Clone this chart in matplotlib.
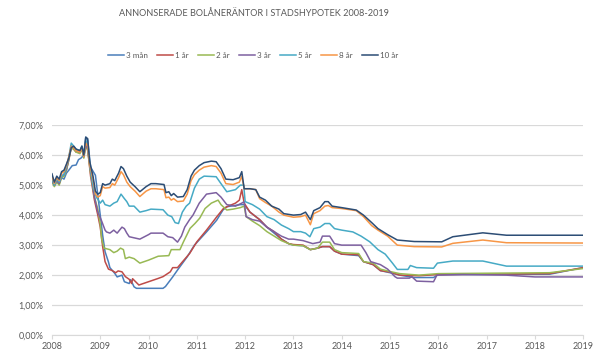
import matplotlib.pyplot as plt
from matplotlib.ticker import FuncFormatter

plt.rcParams['font.family'] = ['Lato', 'DejaVu Sans']

# 3 mån
t_3m = [2008.0, 2008.05, 2008.1, 2008.15, 2008.2, 2008.25, 2008.3, 2008.35, 2008.42, 2008.5,
        2008.55, 2008.6, 2008.66, 2008.7, 2008.74, 2008.8, 2008.9, 2009.0, 2009.05, 2009.1,
        2009.17, 2009.2, 2009.3, 2009.35, 2009.45, 2009.5, 2009.6, 2009.63, 2009.7, 2009.75,
        2010.3, 2010.35, 2010.5, 2010.6, 2010.7, 2010.8, 2010.95, 2011.2, 2011.41, 2011.54,
        2011.62, 2011.9, 2011.98, 2012.1, 2012.3, 2012.45, 2012.6, 2012.75, 2012.9, 2013.0,
        2013.2, 2013.35, 2013.5, 2013.6, 2013.75, 2013.85, 2014.0, 2014.35, 2014.45, 2014.65,
        2014.8, 2015.0, 2015.2, 2015.5, 2015.9, 2016.0, 2018.3, 2019.0]
r_3m = [5.2, 5.05, 5.2, 5.1, 5.25, 5.2, 5.4, 5.5, 5.65, 5.67,
        5.85, 5.9, 6.0, 6.6, 6.5, 5.6, 5.33, 4.0, 3.33, 2.78,
        2.44, 2.25, 2.06, 1.94, 2.0, 1.78, 1.72, 1.85, 1.61, 1.56,
        1.56, 1.62, 1.94, 2.17, 2.39, 2.61, 3.0, 3.44, 3.83, 4.17,
        4.28, 4.35, 4.35, 4.1, 3.85, 3.6, 3.4, 3.2, 3.05, 3.0,
        2.98, 2.85, 2.9, 2.95, 2.95, 2.8, 2.7, 2.65, 2.45, 2.35,
        2.15, 2.08, 2.0, 1.92, 1.92, 2.02, 2.03, 2.25]

# 1 år
t_1y = [2008.0, 2008.05, 2008.1, 2008.15, 2008.2, 2008.25, 2008.3, 2008.35, 2008.4, 2008.45,
        2008.5, 2008.58, 2008.62, 2008.66, 2008.7, 2008.74, 2008.8, 2008.88, 2008.95, 2009.0,
        2009.05, 2009.1, 2009.17, 2009.25, 2009.32, 2009.37, 2009.45, 2009.52, 2009.6, 2009.65,
        2009.67, 2009.8, 2010.0, 2010.2, 2010.3, 2010.45, 2010.5, 2010.6, 2010.7, 2010.85,
        2011.0, 2011.2, 2011.41, 2011.55, 2011.65, 2011.8, 2011.88, 2011.93, 2011.98, 2012.1,
        2012.3, 2012.45, 2012.6, 2012.75, 2012.9, 2013.0, 2013.2, 2013.35, 2013.5, 2013.6,
        2013.75, 2013.85, 2014.0, 2014.35, 2014.45, 2014.65, 2014.8, 2015.0, 2015.2, 2015.6,
        2016.0, 2018.3, 2019.0]
r_1y = [5.15, 5.0, 5.15, 5.05, 5.3, 5.35, 5.5, 5.85, 6.25, 6.2,
        6.1, 6.1, 6.25, 5.95, 6.4, 6.2, 5.3, 4.5, 4.0, 3.6,
        2.95, 2.45, 2.2, 2.15, 2.08, 2.14, 2.11, 1.95, 1.86, 1.72,
        1.88, 1.67, 1.78, 1.89, 1.95, 2.11, 2.25, 2.25, 2.44, 2.72,
        3.11, 3.5, 3.94, 4.22, 4.3, 4.4, 4.5, 4.85, 4.4, 4.1,
        3.85, 3.6, 3.45, 3.2, 3.05, 3.02, 3.0, 2.85, 2.9, 2.95,
        2.95, 2.8, 2.7, 2.68, 2.45, 2.35, 2.15, 2.1, 2.0, 1.98,
        2.02, 2.05, 2.25]

# 2 år
t_2y = [2008.0, 2008.05, 2008.1, 2008.15, 2008.2, 2008.25, 2008.3, 2008.35, 2008.4, 2008.45,
        2008.5, 2008.58, 2008.62, 2008.66, 2008.7, 2008.74, 2008.8, 2008.88, 2008.95, 2009.0,
        2009.03, 2009.08, 2009.2, 2009.28, 2009.35, 2009.42, 2009.48, 2009.52, 2009.6, 2009.7,
        2009.82, 2010.0, 2010.2, 2010.42, 2010.47, 2010.65, 2010.72, 2010.86, 2010.96, 2011.06,
        2011.17, 2011.3, 2011.44, 2011.5, 2011.62, 2011.75, 2011.9, 2011.98, 2012.02, 2012.15,
        2012.3, 2012.45, 2012.6, 2012.75, 2012.9, 2013.0, 2013.2, 2013.35, 2013.5, 2013.6,
        2013.75, 2013.85, 2014.0, 2014.35, 2014.45, 2014.65, 2014.8, 2015.0, 2015.2, 2015.6,
        2016.0, 2018.3, 2019.0]
r_2y = [5.1, 4.95, 5.1, 5.0, 5.25, 5.3, 5.5, 5.85, 6.25, 6.2,
        6.1, 6.05, 6.2, 5.9, 6.3, 6.15, 5.4, 4.6, 4.2, 3.7,
        3.2, 2.9, 2.85, 2.75, 2.8, 2.9, 2.85, 2.55, 2.6, 2.55,
        2.4, 2.5, 2.63, 2.65, 2.85, 2.85, 3.1, 3.56, 3.72, 3.9,
        4.22, 4.4, 4.5, 4.35, 4.17, 4.2, 4.25, 4.3, 3.95, 3.8,
        3.65, 3.45, 3.3, 3.15, 3.05, 3.0, 2.98, 2.85, 2.9, 3.1,
        3.1, 2.85, 2.75, 2.72, 2.45, 2.4, 2.2, 2.12, 2.05, 2.0,
        2.05, 2.08, 2.22]

# 3 år
t_3y = [2008.0, 2008.05, 2008.1, 2008.15, 2008.2, 2008.25, 2008.3, 2008.35, 2008.4, 2008.45,
        2008.5, 2008.58, 2008.62, 2008.66, 2008.7, 2008.74, 2008.8, 2008.88, 2008.95, 2009.03,
        2009.1, 2009.13, 2009.2, 2009.28, 2009.35, 2009.45, 2009.5, 2009.55, 2009.6, 2009.82,
        2010.0, 2010.05, 2010.3, 2010.4, 2010.5, 2010.6, 2010.68, 2010.75, 2010.85, 2010.92,
        2011.05, 2011.2, 2011.4, 2011.5, 2011.62, 2011.8, 2011.93, 2011.98, 2012.02, 2012.15,
        2012.3, 2012.45, 2012.6, 2012.75, 2012.9, 2013.0, 2013.2, 2013.4, 2013.55, 2013.6,
        2013.75, 2013.85, 2014.0, 2014.4, 2014.5, 2014.6, 2014.8, 2014.95, 2015.1, 2015.15,
        2015.4, 2015.45, 2015.55, 2015.9, 2015.97, 2016.5, 2017.4, 2018.0, 2019.0]
r_3y = [5.15, 5.0, 5.15, 5.05, 5.3, 5.35, 5.55, 5.9, 6.3, 6.25,
        6.15, 6.1, 6.25, 5.95, 6.35, 6.2, 5.5, 4.6, 4.1, 3.8,
        3.5, 3.44, 3.4, 3.5, 3.4, 3.6, 3.55, 3.4, 3.28, 3.2,
        3.35, 3.4, 3.4, 3.28, 3.25, 3.1, 3.3, 3.6, 3.85, 4.0,
        4.4, 4.7, 4.75, 4.6, 4.35, 4.3, 4.4, 4.45, 3.95, 3.85,
        3.8, 3.6, 3.45, 3.3, 3.2, 3.2, 3.15, 3.05, 3.1, 3.3,
        3.3, 3.05, 3.0, 3.0, 2.75, 2.45, 2.35, 2.2, 1.95, 1.9,
        1.9, 1.95, 1.8, 1.78, 2.0, 2.02, 2.0, 1.94, 1.94]

# 5 år
t_5y = [2008.0, 2008.05, 2008.1, 2008.15, 2008.2, 2008.25, 2008.3, 2008.35, 2008.4, 2008.45,
        2008.5, 2008.58, 2008.62, 2008.66, 2008.7, 2008.74, 2008.8, 2008.86, 2008.92, 2009.0,
        2009.05, 2009.1, 2009.2, 2009.28, 2009.35, 2009.43, 2009.5, 2009.55, 2009.6, 2009.7,
        2009.82, 2009.95, 2010.05, 2010.3, 2010.4, 2010.48, 2010.55, 2010.62, 2010.7, 2010.78,
        2010.85, 2010.95, 2011.05, 2011.15, 2011.4, 2011.5, 2011.62, 2011.8, 2011.9, 2011.97,
        2012.0, 2012.15, 2012.3, 2012.45, 2012.6, 2012.75, 2012.9, 2013.0, 2013.15, 2013.25,
        2013.34, 2013.42, 2013.55, 2013.65, 2013.75, 2013.85, 2014.0, 2014.23, 2014.4, 2014.58,
        2014.75, 2014.9, 2015.05, 2015.15, 2015.37, 2015.42, 2015.55, 2015.9, 2015.98, 2016.3,
        2016.92, 2017.41, 2019.0]
r_5y = [5.2, 5.0, 5.2, 5.1, 5.3, 5.35, 5.6, 5.95, 6.4, 6.3,
        6.2, 6.15, 6.3, 6.0, 6.5, 6.3, 5.5, 4.9, 4.6, 4.4,
        4.5, 4.35, 4.3, 4.4, 4.45, 4.7, 4.55, 4.45, 4.3, 4.3,
        4.1, 4.15, 4.2, 4.18, 4.0, 3.95, 3.75, 3.72, 4.1, 4.3,
        4.4, 4.9, 5.2, 5.3, 5.28, 5.05, 4.78, 4.85, 5.0, 5.0,
        4.45, 4.35, 4.2, 3.95, 3.85, 3.67, 3.55, 3.45, 3.45, 3.4,
        3.28, 3.55, 3.6, 3.72, 3.72, 3.55, 3.5, 3.44, 3.3, 3.11,
        2.85, 2.7, 2.4, 2.19, 2.19, 2.32, 2.25, 2.23, 2.4, 2.47,
        2.47, 2.3, 2.3]

# 8 år
t_8y = [2008.0, 2008.05, 2008.1, 2008.15, 2008.2, 2008.25, 2008.3, 2008.35, 2008.4, 2008.45,
        2008.5, 2008.58, 2008.62, 2008.66, 2008.7, 2008.74, 2008.78, 2008.85, 2008.9, 2008.95,
        2009.0, 2009.05, 2009.1, 2009.2, 2009.25, 2009.3, 2009.38, 2009.43, 2009.48, 2009.55,
        2009.62, 2009.72, 2009.82, 2009.95, 2010.05, 2010.15, 2010.32, 2010.36, 2010.42, 2010.47,
        2010.52, 2010.6, 2010.72, 2010.8, 2010.88, 2010.95, 2011.05, 2011.15, 2011.3, 2011.4,
        2011.5, 2011.6, 2011.75, 2011.88, 2011.93, 2011.98, 2012.1, 2012.22, 2012.3, 2012.42,
        2012.55, 2012.7, 2012.8, 2013.0, 2013.15, 2013.25, 2013.35, 2013.42, 2013.55, 2013.65,
        2013.72, 2013.8, 2014.0, 2014.3, 2014.45, 2014.62, 2014.75, 2014.95, 2015.15, 2015.5,
        2016.07, 2016.3, 2016.92, 2017.41, 2019.0]
r_8y = [5.3, 5.05, 5.25, 5.15, 5.4, 5.45, 5.65, 5.95, 6.3, 6.25,
        6.15, 6.1, 6.25, 5.95, 6.4, 6.3, 5.7, 5.2, 4.7, 4.6,
        4.65, 4.95, 4.9, 4.92, 5.05, 5.0, 5.25, 5.45, 5.35, 5.1,
        4.95, 4.8, 4.62, 4.8, 4.88, 4.88, 4.85, 4.58, 4.6, 4.5,
        4.55, 4.45, 4.47, 4.7, 5.15, 5.35, 5.5, 5.6, 5.65, 5.62,
        5.4, 5.05, 5.02, 5.1, 5.3, 4.88, 4.88, 4.85, 4.55, 4.42,
        4.3, 4.1, 4.0, 3.93, 3.95, 4.0, 3.68, 4.05, 4.15, 4.3,
        4.32, 4.25, 4.22, 4.15, 3.95, 3.65, 3.5, 3.3, 3.0, 2.95,
        2.94, 3.06, 3.17, 3.08, 3.07]

# 10 år
t_10y = [2008.0, 2008.05, 2008.1, 2008.15, 2008.2, 2008.25, 2008.3, 2008.35, 2008.4, 2008.45,
         2008.5, 2008.58, 2008.62, 2008.66, 2008.7, 2008.74, 2008.78, 2008.85, 2008.9, 2008.95,
         2009.0, 2009.05, 2009.1, 2009.2, 2009.25, 2009.3, 2009.38, 2009.43, 2009.48, 2009.55,
         2009.62, 2009.72, 2009.82, 2009.95, 2010.05, 2010.15, 2010.32, 2010.36, 2010.42, 2010.47,
         2010.52, 2010.6, 2010.72, 2010.8, 2010.88, 2010.95, 2011.05, 2011.15, 2011.3, 2011.4,
         2011.5, 2011.6, 2011.75, 2011.88, 2011.93, 2011.98, 2012.1, 2012.22, 2012.3, 2012.42,
         2012.55, 2012.7, 2012.8, 2013.0, 2013.15, 2013.25, 2013.35, 2013.42, 2013.55, 2013.65,
         2013.72, 2013.8, 2014.0, 2014.3, 2014.45, 2014.62, 2014.75, 2014.95, 2015.15, 2015.5,
         2016.07, 2016.3, 2016.92, 2017.41, 2019.0]
r_10y = [5.38, 5.1, 5.3, 5.2, 5.45, 5.5, 5.7, 5.9, 6.25, 6.3,
         6.2, 6.15, 6.3, 6.0, 6.6, 6.55, 5.8, 5.3, 4.8, 4.7,
         4.75, 5.05, 5.0, 5.05, 5.2, 5.15, 5.4, 5.62, 5.55, 5.3,
         5.1, 4.95, 4.78, 4.95, 5.05, 5.05, 5.02, 4.75, 4.78, 4.65,
         4.72, 4.6, 4.62, 4.85, 5.3, 5.5, 5.65, 5.75, 5.8, 5.78,
         5.55, 5.2, 5.18, 5.25, 5.45, 4.88, 4.88, 4.85, 4.6, 4.5,
         4.3, 4.2, 4.05, 4.0, 4.02, 4.1, 3.85, 4.15, 4.25, 4.45,
         4.45, 4.3, 4.25, 4.17, 4.0, 3.75, 3.55, 3.35, 3.17, 3.12,
         3.11, 3.28, 3.41, 3.33, 3.33]

labels = ['3 mån', '1 år', '2 år', '3 år', '5 år', '8 år', '10 år']
colors = ['#4A7EBB', '#BE4B48', '#98B954', '#7D60A0', '#46AAC5', '#F79646', '#2C4D75']
series = [(t_3m, r_3m), (t_1y, r_1y), (t_2y, r_2y), (t_3y, r_3y),
          (t_5y, r_5y), (t_8y, r_8y), (t_10y, r_10y)]
years = list(range(2008, 2020))

fig = plt.figure(figsize=(5.97, 3.55), dpi=100)
ax = fig.add_axes([0.087, 0.056, 0.89, 0.5915])

for (t, r), lab, c in zip(series, labels, colors):
    ax.plot(t, r, color=c, linewidth=1.1, label=lab)

ax.set_xlim(2008, 2019)
ax.set_ylim(0, 7)
ax.set_xticks(years)
ax.set_yticks(range(0, 8))
ax.yaxis.set_major_formatter(FuncFormatter(lambda v, p: f'{v:.2f}%'.replace('.', ',')))
ax.grid(axis='y', color='#D9D9D9', linewidth=0.9)
ax.set_axisbelow(True)
for s in ['top', 'right', 'left']:
    ax.spines[s].set_visible(False)
ax.spines['bottom'].set_color('#D9D9D9')
ax.tick_params(axis='y', length=0, labelsize=6.5, labelcolor='#595959', pad=6)
ax.tick_params(axis='x', length=3, color='#D9D9D9', labelsize=6.5, labelcolor='#595959', pad=2)

fig.text(0.425, 0.963, 'ANNONSERADE BOLÅNERÄNTOR I STADSHYPOTEK 2008-2019',
         ha='center', va='center', fontsize=6.6, color='#595959')
fig.legend(loc='center', bbox_to_anchor=(0.424, 0.845), ncol=7, frameon=False,
           fontsize=5.8, handlelength=2.0, handletextpad=0.3, columnspacing=1.1,
           labelcolor='#595959')

fig.savefig('out.png', dpi=100)
